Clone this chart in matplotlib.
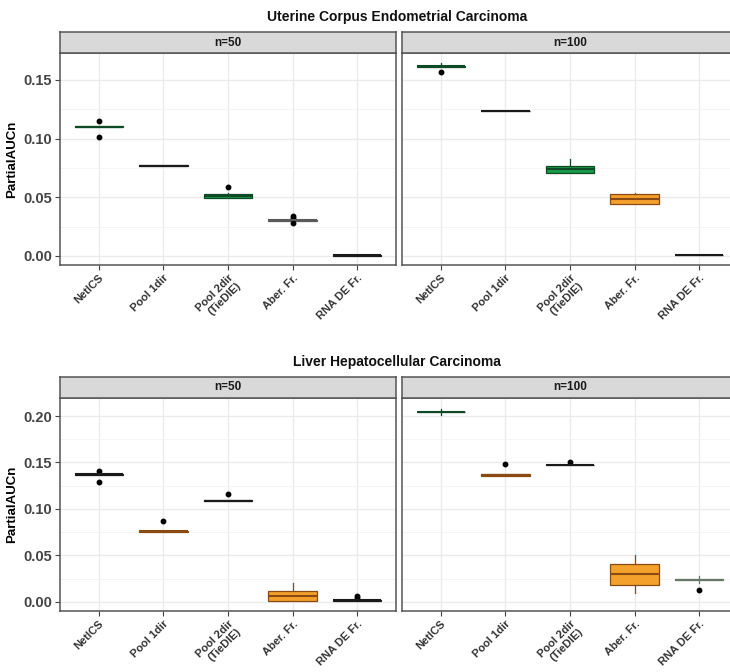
import matplotlib
matplotlib.use("Agg")
import matplotlib.pyplot as plt
from matplotlib.ticker import MultipleLocator

plt.rcParams['font.family'] = ['Liberation Sans', 'DejaVu Sans']

methods = ['NetICS', 'Pool 1dir', 'Pool 2dir\n(TieDIE)', 'Aber. Fr.', 'RNA DE Fr.']

# Uterine Corpus Endometrial Carcinoma, n=50
ucec50_med = [0.110, 0.077, 0.051, 0.0305, 0.0005]
ucec50_q1 = [0.1095, 0.0768, 0.0494, 0.0302, 0.0003]
ucec50_q3 = [0.1105, 0.0772, 0.0530, 0.0308, 0.0007]
ucec50_lo = [0.1095, 0.0768, 0.0494, 0.0302, 0.0003]
ucec50_hi = [0.1105, 0.0772, 0.0535, 0.0308, 0.0007]
ucec50_out = [[0.115, 0.101], [], [0.0585], [0.034, 0.032, 0.028], []]
ucec50_col = ['green', 'none', 'green', 'gray', 'none']

# Uterine Corpus Endometrial Carcinoma, n=100
ucec100_med = [0.1615, 0.1235, 0.074, 0.0486, 0.0006]
ucec100_q1 = [0.1610, 0.1233, 0.0704, 0.0446, 0.0004]
ucec100_q3 = [0.1620, 0.1237, 0.0770, 0.0528, 0.0008]
ucec100_lo = [0.1610, 0.1233, 0.0704, 0.0446, 0.0004]
ucec100_hi = [0.1647, 0.1237, 0.0829, 0.0540, 0.0008]
ucec100_out = [[0.1567], [], [], [], []]
ucec100_col = ['green', 'none', 'green', 'orange', 'none']

# Liver Hepatocellular Carcinoma, n=50
lihc50_med = [0.1372, 0.0758, 0.1088, 0.0065, 0.0015]
lihc50_q1 = [0.1368, 0.0752, 0.1085, 0.0008, 0.0012]
lihc50_q3 = [0.1376, 0.0764, 0.1091, 0.0119, 0.0018]
lihc50_lo = [0.1368, 0.0752, 0.1085, 0.0008, 0.0012]
lihc50_hi = [0.1376, 0.0764, 0.1091, 0.0198, 0.0018]
lihc50_out = [[0.1408, 0.129], [0.0866], [0.1157], [], [0.0065, 0.004]]
lihc50_col = ['none', 'orange', 'none', 'orange', 'none']

# Liver Hepatocellular Carcinoma, n=100
lihc100_med = [0.2043, 0.1365, 0.1472, 0.0302, 0.0237]
lihc100_q1 = [0.2039, 0.1358, 0.1469, 0.0180, 0.0234]
lihc100_q3 = [0.2047, 0.1372, 0.1475, 0.0403, 0.0240]
lihc100_lo = [0.2014, 0.1358, 0.1469, 0.0090, 0.0198]
lihc100_hi = [0.2080, 0.1372, 0.1475, 0.0503, 0.0277]
lihc100_out = [[], [0.1483], [0.1508], [], [0.0123]]
lihc100_col = ['green', 'orange', 'none', 'orange', 'olive']

fills = {'green': '#1b9a4a', 'orange': '#f3a12c', 'none': 'white', 'gray': 'white', 'olive': '#9aa89a'}
edges = {'green': '#0f4a26', 'orange': '#8a4a12', 'none': '#1a1a1a', 'gray': '#5a5a5a', 'olive': '#687868'}


def make_stats(med, q1, q3, lo, hi, out):
    stats = []
    for i in range(len(med)):
        stats.append(dict(med=med[i], q1=q1[i], q3=q3[i], whislo=lo[i], whishi=hi[i], fliers=out[i]))
    return stats


def draw_panel(ax, stats, cols, ylim, major, show_y):
    ax.set_facecolor('white')
    pos = list(range(1, len(methods) + 1))
    bp = ax.bxp(stats, positions=pos, widths=0.75, patch_artist=True, showcaps=False,
                flierprops=dict(marker='o', markersize=3.2, markerfacecolor='black', markeredgecolor='black'),
                zorder=3)
    for i, c in enumerate(cols):
        bp['boxes'][i].set_facecolor(fills[c])
        bp['boxes'][i].set_edgecolor(edges[c])
        bp['boxes'][i].set_linewidth(0.9)
        bp['medians'][i].set_color(edges[c])
        bp['medians'][i].set_linewidth(1.5)
        for w in bp['whiskers'][2 * i:2 * i + 2]:
            w.set_color(edges[c])
            w.set_linewidth(0.9)
    ax.set_xlim(0.4, len(methods) + 0.6)
    ax.set_ylim(*ylim)
    ax.yaxis.set_major_locator(MultipleLocator(major))
    ax.yaxis.set_minor_locator(MultipleLocator(major / 2))
    ax.grid(which='major', color='#ebebeb', linewidth=1.0, zorder=0)
    ax.grid(which='minor', axis='y', color='#f3f3f3', linewidth=0.6, zorder=0)
    ax.set_axisbelow(True)
    for s in ax.spines.values():
        s.set_color('#555555')
        s.set_linewidth(1.1)
    ax.set_xticks(pos)
    ax.set_xticklabels(methods, rotation=45, ha='right', rotation_mode='anchor',
                       fontsize=8, color='#333333', fontweight='bold')
    ax.tick_params(axis='both', which='major', direction='out', length=3.5, color='#444444', pad=2)
    ax.tick_params(axis='y', which='minor', length=0)
    if show_y:
        ax.yaxis.set_major_formatter(matplotlib.ticker.FormatStrFormatter('%.2f'))
        for t in ax.get_yticklabels():
            t.set_fontsize(10.5)
            t.set_fontweight('bold')
            t.set_color('#444444')
        ax.set_ylabel('PartialAUCn', fontsize=9.5, fontweight='bold', labelpad=4)
    else:
        ax.tick_params(axis='y', which='both', left=False, labelleft=False)


def draw_strip(fig, rect, label):
    sax = fig.add_axes(rect)
    sax.set_facecolor('#d9d9d9')
    sax.set_xticks([])
    sax.set_yticks([])
    for s in sax.spines.values():
        s.set_color('#555555')
        s.set_linewidth(1.1)
    sax.text(0.5, 0.5, label, ha='center', va='center', fontsize=8.5, fontweight='bold', color='#1a1a1a',
             transform=sax.transAxes)


W, H = 730, 672
fig = plt.figure(figsize=(W / 100, H / 100), dpi=100)
fig.patch.set_facecolor('white')

rows = [
    (53, 265, 32, 'Uterine Corpus Endometrial Carcinoma', 17,
     [(ucec50_med, ucec50_q1, ucec50_q3, ucec50_lo, ucec50_hi, ucec50_out, ucec50_col),
      (ucec100_med, ucec100_q1, ucec100_q3, ucec100_lo, ucec100_hi, ucec100_out, ucec100_col)],
     (-0.0077, 0.1729), 0.05),
    (398, 611, 377, 'Liver Hepatocellular Carcinoma', 362,
     [(lihc50_med, lihc50_q1, lihc50_q3, lihc50_lo, lihc50_hi, lihc50_out, lihc50_col),
      (lihc100_med, lihc100_q1, lihc100_q3, lihc100_lo, lihc100_hi, lihc100_out, lihc100_col)],
     (-0.0100, 0.2194), 0.05),
]
panel_x = [(60, 396), (402, 738)]
strip_labels = ['n=50', 'n=100']

for top, bottom, strip_top, title, title_y, sets, ylim, major in rows:
    for j, (x0, x1) in enumerate(panel_x):
        ax = fig.add_axes([x0 / W, 1 - bottom / H, (x1 - x0) / W, (bottom - top) / H])
        med, q1, q3, lo, hi, out, cols = sets[j]
        draw_panel(ax, make_stats(med, q1, q3, lo, hi, out), cols, ylim, major, j == 0)
        draw_strip(fig, [x0 / W, 1 - top / H, (x1 - x0) / W, (top - strip_top) / H], strip_labels[j])
    fig.text(397 / W, 1 - title_y / H, title, ha='center', va='center', fontsize=10, fontweight='bold',
             color='#111111')

fig.savefig('out.png', dpi=100, facecolor='white')
